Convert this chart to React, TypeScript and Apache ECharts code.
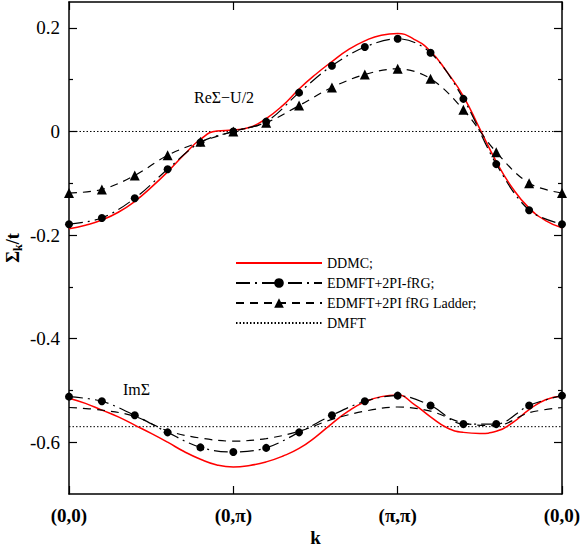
import React, { useEffect, useRef } from "react";
import * as echarts from "echarts";

const kFine = [0, 0.1, 0.2, 0.3, 0.4, 0.5, 0.6, 0.7, 0.8, 0.9, 1.0, 1.1, 1.2, 1.3, 1.4, 1.5, 1.6, 1.7, 1.8, 1.9, 2.0, 2.1, 2.2, 2.3, 2.4, 2.5, 2.6, 2.7, 2.8, 2.9, 3.0];
const kMark = [0, 0.2, 0.4, 0.6, 0.8, 1.0, 1.2, 1.4, 1.6, 1.8, 2.0, 2.2, 2.4, 2.6, 2.8, 3.0];

const ddmcRe = [-0.188, -0.181, -0.171, -0.156, -0.135, -0.108, -0.078, -0.045, -0.015, 0.001, 0.003, 0.008, 0.025, 0.05, 0.082, 0.11, 0.135, 0.158, 0.175, 0.186, 0.189, 0.178, 0.155, 0.115, 0.068, 0.005, -0.058, -0.11, -0.148, -0.172, -0.186];
const ddmcIm = [-0.515, -0.525, -0.538, -0.551, -0.567, -0.583, -0.6, -0.618, -0.633, -0.644, -0.648, -0.645, -0.638, -0.627, -0.612, -0.59, -0.564, -0.54, -0.522, -0.512, -0.509, -0.527, -0.551, -0.572, -0.581, -0.583, -0.579, -0.562, -0.537, -0.518, -0.511];

const frgRe = [-0.179, -0.167, -0.129, -0.073, -0.021, 0.0, 0.019, 0.075, 0.127, 0.163, 0.179, 0.152, 0.063, -0.063, -0.152, -0.179];
const frgIm = [-0.512, -0.521, -0.548, -0.581, -0.61, -0.619, -0.611, -0.581, -0.548, -0.521, -0.51, -0.529, -0.565, -0.565, -0.529, -0.51];

const ladderRe = [-0.119, -0.112, -0.085, -0.046, -0.02, 0.0, 0.017, 0.05, 0.085, 0.11, 0.121, 0.102, 0.042, -0.04, -0.1, -0.119];
const ladderIm = [-0.533, -0.538, -0.55, -0.578, -0.592, -0.598, -0.593, -0.579, -0.556, -0.54, -0.532, -0.54, -0.563, -0.568, -0.543, -0.533];

const dmftRe = 0;
const dmftIm = -0.57;

const xTickLabels = ["(0,0)", "(0,\u03c0)", "(\u03c0,\u03c0)", "(0,0)"];
const yMajor = [-0.6, -0.4, -0.2, 0, 0.2];
const yMinor = [-0.5, -0.3, -0.1, 0.1];

const names = ["DDMC;", "EDMFT+2PI-fRG;", "EDMFT+2PI fRG Ladder;", "DMFT"];

const FONT = "Liberation Serif";

function pair(xs: number[], ys: number[]) {
  return xs.map((x, i) => [x, ys[i]]);
}

export default function App() {
  const ref = useRef<HTMLDivElement>(null);
  useEffect(() => {
    if (!ref.current) return;
    const chart = echarts.init(ref.current, null, { renderer: "svg" });
    const black = "#000";
    const clear = "rgba(0,0,0,0)";
    const frgLine = { color: black, width: 1.2, type: [14, 5, 2, 5] as any };
    const ladLine = { color: black, width: 1.2, type: [8, 6] as any };
    const redLine = { color: "#ff0000", width: 1.5, type: "solid" as any };
    const dotLine = { color: black, width: 1, type: [1.5, 2] as any };
    const axisLine = { show: true, onZero: false, lineStyle: { color: black, width: 1.5 } };

    const yBase = {
      type: "value",
      min: -0.7,
      max: 0.25,
      splitLine: { show: false },
    };

    chart.setOption({
      animation: false,
      backgroundColor: "#fff",
      textStyle: { fontFamily: FONT },
      grid: { left: 69, right: 19, top: 2, bottom: 53, containLabel: false, outerBoundsMode: "none" } as any,
      legend: {
        data: names,
        orient: "vertical",
        left: 230,
        top: 251,
        itemWidth: 86,
        itemHeight: 12,
        itemGap: 6,
        textStyle: { fontFamily: FONT, fontSize: 14, color: black },
        selectedMode: false,
      },
      xAxis: [
        {
          type: "value",
          min: 0,
          max: 3,
          interval: 1,
          position: "bottom",
          axisLine,
          axisTick: { show: true, inside: true, length: 8, lineStyle: { color: black, width: 1.2 } },
          axisLabel: {
            formatter: (v: number) => xTickLabels[Math.round(v)],
            fontFamily: FONT,
            fontSize: 19,
            fontWeight: "bold",
            color: black,
            margin: 12,
          },
          splitLine: { show: false },
          name: "k",
          nameLocation: "middle",
          nameGap: 34,
          nameMoveOverlap: false,
          nameTextStyle: { fontFamily: FONT, fontSize: 19, fontWeight: "bold", color: black },
        },
        {
          type: "value",
          min: 0,
          max: 3,
          interval: 1,
          position: "top",
          axisLine,
          axisTick: { show: true, inside: true, length: 8, lineStyle: { color: black, width: 1.2 } },
          axisLabel: { show: false },
          splitLine: { show: false },
        },
      ],
      yAxis: [
        {
          ...yBase,
          position: "left",
          axisLine,
          axisTick: { show: true, inside: true, length: 8, customValues: yMajor, lineStyle: { color: black, width: 1.2 } },
          axisLabel: {
            customValues: yMajor,
            formatter: (v: number) => (Math.abs(v) < 1e-9 ? "0" : v.toFixed(1)),
            fontFamily: FONT,
            fontSize: 19,
            color: black,
            margin: 9,
          },
          name: "{a|\u03a3}{b|k}{a|/t}",
          nameLocation: "middle",
          nameRotate: 90,
          nameGap: 45,
          nameMoveOverlap: false,
          nameTextStyle: {
            fontFamily: FONT,
            color: black,
            rich: {
              a: { fontFamily: FONT, fontSize: 18, fontWeight: "bold", color: black },
              b: { fontFamily: FONT, fontSize: 12, fontWeight: "bold", color: black, padding: [10, 0, 0, 0] },
            },
          },
        },
        {
          ...yBase,
          position: "left",
          axisLine: { show: false, onZero: false },
          axisTick: { show: true, inside: true, length: 4, customValues: yMinor, lineStyle: { color: black, width: 1.2 } },
          axisLabel: { show: false },
        },
        {
          ...yBase,
          position: "right",
          axisLine,
          axisTick: { show: true, inside: true, length: 8, customValues: yMajor, lineStyle: { color: black, width: 1.2 } },
          axisLabel: { show: false },
        },
        {
          ...yBase,
          position: "right",
          axisLine: { show: false, onZero: false },
          axisTick: { show: true, inside: true, length: 4, customValues: yMinor, lineStyle: { color: black, width: 1.2 } },
          axisLabel: { show: false },
        },
      ],
      graphic: [
        {
          type: "text",
          left: 194,
          top: 89,
          style: { text: "Re\u03a3\u2212U/2", font: `16px "Liberation Serif"`, fill: black },
        },
        {
          type: "text",
          left: 123,
          top: 381,
          style: { text: "Im\u03a3", font: `16px "Liberation Serif"`, fill: black },
        },
      ],
      series: [
        {
          name: names[0],
          type: "line",
          data: pair(kFine, ddmcRe),
          smooth: true,
          showSymbol: false,
          symbol: "none",
          lineStyle: redLine,
          itemStyle: { color: clear },
          z: 3,
        },
        {
          name: names[0],
          type: "line",
          data: pair(kFine, ddmcIm),
          smooth: true,
          showSymbol: false,
          symbol: "none",
          lineStyle: redLine,
          itemStyle: { color: clear },
          z: 3,
        },
        {
          name: names[1],
          type: "line",
          data: pair(kMark, frgRe),
          smooth: 0.35,
          symbol: "circle",
          symbolSize: 8,
          lineStyle: frgLine,
          itemStyle: { color: black },
          z: 4,
        },
        {
          name: names[1],
          type: "line",
          data: pair(kMark, frgIm),
          smooth: 0.35,
          symbol: "circle",
          symbolSize: 8,
          lineStyle: frgLine,
          itemStyle: { color: black },
          z: 4,
        },
        {
          name: names[2],
          type: "line",
          data: pair(kMark, ladderRe),
          smooth: 0.35,
          symbol: "triangle",
          symbolSize: 10,
          lineStyle: ladLine,
          itemStyle: { color: black },
          z: 4,
        },
        {
          name: names[2],
          type: "line",
          data: pair(kMark, ladderIm),
          smooth: 0.35,
          symbol: "none",
          showSymbol: false,
          lineStyle: ladLine,
          itemStyle: { color: black },
          z: 4,
        },
        {
          name: names[3],
          type: "line",
          data: [[0, dmftRe], [3, dmftRe]],
          symbol: "none",
          showSymbol: false,
          lineStyle: dotLine,
          itemStyle: { color: clear },
          z: 2,
        },
        {
          name: names[3],
          type: "line",
          data: [[0, dmftIm], [3, dmftIm]],
          symbol: "none",
          showSymbol: false,
          lineStyle: dotLine,
          itemStyle: { color: clear },
          z: 2,
        },
      ],
    });
    return () => chart.dispose();
  }, []);
  return (
    <div
      ref={ref}
      style={{ position: "absolute", left: 0, top: 0, width: 581, height: 547 }}
    />
  );
}
